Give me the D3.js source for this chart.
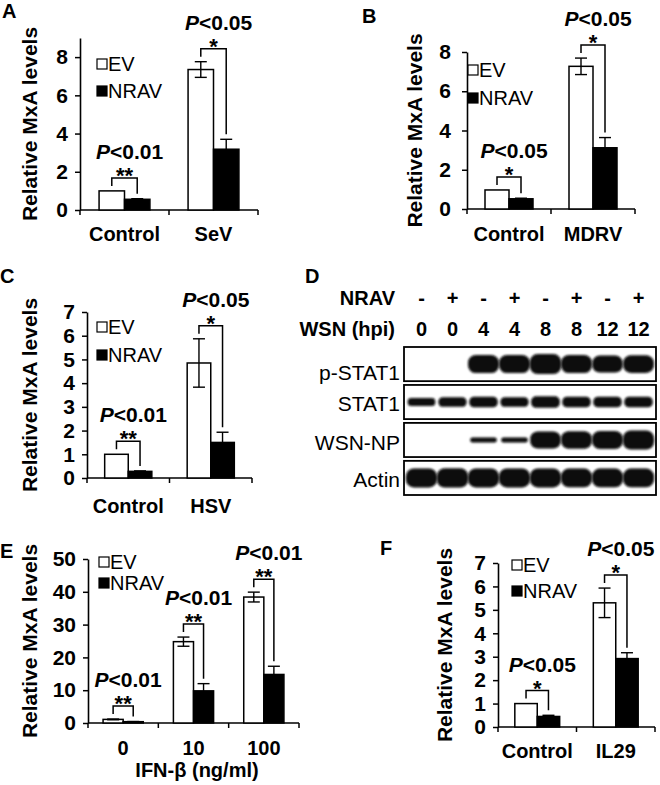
<!DOCTYPE html>
<html><head><meta charset="utf-8">
<script src="https://cdn.jsdelivr.net/npm/d3@7"></script>
<style>
body{margin:0;background:#fff}
svg{display:block}
text{font-family:"Liberation Sans",Arial,Helvetica,sans-serif;fill:#000}
</style>
</head><body>
<svg id="fig" width="660" height="785"></svg>
<script>
// ---------------- DATA ----------------
const seriesNames = ["EV", "NRAV"];

// Panel A
const categoriesA = ["Control", "SeV"];
const evA = [1.0, 7.35];
const evErrA = [0.0, 0.41];
const nravA = [0.56, 3.18];
const nravErrA = [0.03, 0.52];
const pA = ["0.01", "0.05"];
const starsA = ["**", "*"];
const ticksA = [0, 2, 4, 6, 8];

// Panel B
const categoriesB = ["Control", "MDRV"];
const evB = [0.97, 7.27];
const evErrB = [0.0, 0.42];
const nravB = [0.52, 3.12];
const nravErrB = [0.03, 0.52];
const pB = ["0.05", "0.05"];
const starsB = ["*", "*"];
const ticksB = [0, 2, 4, 6, 8];

// Panel C
const categoriesC = ["Control", "HSV"];
const evC = [1.0, 4.85];
const evErrC = [0.0, 1.02];
const nravC = [0.28, 1.5];
const nravErrC = [0.02, 0.43];
const pC = ["0.01", "0.05"];
const starsC = ["**", "*"];
const ticksC = [0, 1, 2, 3, 4, 5, 6, 7];

// Panel D (western blot)
const laneNRAV = ["-", "+", "-", "+", "-", "+", "-", "+"];
const laneWSN = ["0", "0", "4", "4", "8", "8", "12", "12"];
const blotRows = ["p-STAT1", "STAT1", "WSN-NP", "Actin"];
const bandPSTAT1 = [0, 0, 0.9, 0.9, 1.0, 0.9, 0.85, 0.88];
const bandSTAT1 = [0.4, 0.48, 0.52, 0.48, 0.58, 0.52, 0.52, 0.52];
const bandWSNNP = [0, 0, 0.25, 0.25, 0.85, 0.88, 0.9, 0.95];
const bandActin = [0.95, 0.97, 0.95, 0.95, 0.95, 0.93, 0.93, 0.93];

// Panel E
const categoriesE = ["0", "10", "100"];
const evE = [1.1, 24.8, 38.4];
const evErrE = [0.1, 1.4, 1.5];
const nravE = [0.4, 9.8, 14.8];
const nravErrE = [0.05, 2.2, 2.5];
const pE = ["0.01", "0.01", "0.01"];
const starsE = ["**", "**", "**"];
const ticksE = [0, 10, 20, 30, 40, 50];

// Panel F
const categoriesF = ["Control", "IL29"];
const evF = [1.0, 5.3];
const evErrF = [0.0, 0.63];
const nravF = [0.45, 2.92];
const nravErrF = [0.05, 0.25];
const pF = ["0.05", "0.05"];
const starsF = ["*", "*"];
const ticksF = [0, 1, 2, 3, 4, 5, 6, 7];

// ---------------- DRAWING ----------------
const svg = d3.select("#fig");
const FS = 20;

function panelLetter(t, x, y) {
  svg.append("text").attr("x", x).attr("y", y)
    .attr("font-size", 20).attr("font-weight", "bold").text(t);
}

function barPanel(o) {
  const g = svg.append("g");
  const x = d3.scaleBand().domain(o.cats).range(o.xRange).padding(0);
  const xs = d3.scaleBand().domain(seriesNames).range([0, x.bandwidth()])
    .paddingInner(0).paddingOuter(0.75);
  const y = d3.scaleLinear().domain([0, o.yMax]).range(o.yRange);
  const y0 = y(0);

  // y axis
  const ya = g.append("g").attr("transform", `translate(${o.xRange[0]},0)`)
    .call(d3.axisLeft(y).tickValues(o.ticks).tickFormat(d3.format("d"))
      .tickSize(5).tickSizeOuter(0).tickPadding(o.tickPad || 7));
  ya.select(".domain").attr("stroke", "#000").attr("stroke-width", 1.6);
  ya.selectAll(".tick line").attr("stroke", "#000").attr("stroke-width", 1.5);
  ya.selectAll(".tick text").attr("font-size", 21).attr("font-weight", "bold")
    .attr("font-family", "Liberation Sans, Arial, sans-serif").attr("fill", "#000");

  // x axis
  g.append("line").attr("x1", o.xRange[0]).attr("x2", o.xRange[1])
    .attr("y1", y0).attr("y2", y0).attr("stroke", "#000").attr("stroke-width", 1.6);
  const bounds = [x.range()[0]].concat(o.cats.map(c => x(c) + x.bandwidth()));
  g.selectAll(".xt").data(bounds).enter().append("line")
    .attr("x1", d => d).attr("x2", d => d).attr("y1", y0).attr("y2", y0 + 5)
    .attr("stroke", "#000").attr("stroke-width", 1.5);
  g.selectAll(".xl").data(o.cats).enter().append("text")
    .attr("x", d => x(d) + x.bandwidth() / 2).attr("y", y0 + o.catDy)
    .attr("text-anchor", "middle").attr("font-size", FS).attr("font-weight", "bold")
    .text(d => d);

  // bars
  const rows = o.cats.map((c, i) => ({c, ev: o.ev[i], evErr: o.evErr[i], nrav: o.nrav[i], nravErr: o.nravErr[i], p: o.p[i], s: o.stars[i]}));
  rows.forEach(r => {
    [["EV", r.ev, "#fff"], ["NRAV", r.nrav, "#000"]].forEach(([s, v, fill]) => {
      g.append("rect").attr("x", x(r.c) + xs(s)).attr("y", y(v))
        .attr("width", xs.bandwidth()).attr("height", y0 - y(v))
        .attr("fill", fill).attr("stroke", "#000").attr("stroke-width", 1.5);
    });
    [["EV", r.ev, r.evErr], ["NRAV", r.nrav, r.nravErr]].forEach(([s, v, e]) => {
      if (e <= 0) return;
      const cx = x(r.c) + xs(s) + xs.bandwidth() / 2;
      const eb = g.append("g").attr("stroke", "#000").attr("stroke-width", 1.4);
      eb.append("line").attr("x1", cx).attr("x2", cx).attr("y1", y(v - e)).attr("y2", y(v + e));
      eb.append("line").attr("x1", cx - 6).attr("x2", cx + 6).attr("y1", y(v + e)).attr("y2", y(v + e));
      eb.append("line").attr("x1", cx - 6).attr("x2", cx + 6).attr("y1", y(v - e)).attr("y2", y(v - e));
    });
    // significance bracket
    const lx = x(r.c) + xs("EV") + xs.bandwidth() / 2;
    const rx = x(r.c) + xs("NRAV") + xs.bandwidth() / 2;
    const lb = y(r.ev + r.evErr) - 5;
    const rb = y(r.nrav + r.nravErr) - 5;
    const top = Math.min(lb, rb) - 8;
    g.append("path").attr("d", `M${lx},${lb}V${top}H${rx}V${rb}`)
      .attr("fill", "none").attr("stroke", "#000").attr("stroke-width", 1.5);
    g.append("text").attr("x", (lx + rx) / 2).attr("y", top + 5)
      .attr("text-anchor", "middle").attr("font-size", 22).attr("font-weight", "bold").text(r.s);
    const pt = g.append("text").attr("x", (lx + rx) / 2 + 5).attr("y", top - 19)
      .attr("text-anchor", "middle").attr("font-size", 21).attr("font-weight", "bold");
    pt.append("tspan").attr("font-style", "italic").text("P");
    pt.append("tspan").text("<" + r.p);
  });

  // legend
  seriesNames.forEach((s, i) => {
    const ly = o.legend[1] + i * o.legendGap;
    g.append("rect").attr("x", o.legend[0]).attr("y", ly).attr("width", 10).attr("height", 10)
      .attr("fill", i === 0 ? "#fff" : "#000").attr("stroke", "#000").attr("stroke-width", 1.2);
    g.append("text").attr("x", o.legend[0] + 11).attr("y", ly + 12)
      .attr("font-size", 20).text(s);
  });

  // y label
  g.append("text").attr("transform", `translate(${o.yLabelX},${(o.yRange[0] + o.yRange[1]) / 2}) rotate(-90)`)
    .attr("text-anchor", "middle").attr("font-size", 21).attr("font-weight", "bold")
    .text("Relative MxA levels");

  if (o.xTitle) {
    g.append("text").attr("x", o.xTitle[1]).attr("y", y0 + o.xTitle[2])
      .attr("text-anchor", "middle").attr("font-size", FS).attr("font-weight", "bold").text(o.xTitle[0]);
  }
}

// Panel A
panelLetter("A", 2, 18);
barPanel({cats: categoriesA, ev: evA, evErr: evErrA, nrav: nravA, nravErr: nravErrA, p: pA, stars: starsA,
  ticks: ticksA, yMax: 9, xRange: [80, 258], yRange: [210, 38], catDy: 31, legend: [97, 59], legendGap: 27, yLabelX: 37});

// Panel B
panelLetter("B", 362, 23);
barPanel({cats: categoriesB, ev: evB, evErr: evErrB, nrav: nravB, nravErr: nravErrB, p: pB, stars: starsB,
  ticks: ticksB, yMax: 8, xRange: [467, 635], yRange: [209, 52], catDy: 32, legend: [468, 65], legendGap: 28, yLabelX: 422, tickPad: 11});

// Panel C
panelLetter("C", 0, 283);
barPanel({cats: categoriesC, ev: evC, evErr: evErrC, nrav: nravC, nravErr: nravErrC, p: pC, stars: starsC,
  ticks: ticksC, yMax: 7, xRange: [87, 252], yRange: [478, 312], catDy: 35, legend: [97, 322], legendGap: 28, yLabelX: 37});

// Panel E
panelLetter("E", 0, 558);
barPanel({cats: categoriesE, ev: evE, evErr: evErrE, nrav: nravE, nravErr: nravErrE, p: pE, stars: starsE,
  ticks: ticksE, yMax: 50, xRange: [88, 299], yRange: [723, 559], catDy: 32, legend: [99, 557], legendGap: 21, yLabelX: 37,
  xTitle: ["IFN-β (ng/ml)", 197, 54]});

// Panel F
panelLetter("F", 380, 555);
barPanel({cats: categoriesF, ev: evF, evErr: evErrF, nrav: nravF, nravErr: nravErrF, p: pF, stars: starsF,
  ticks: ticksF, yMax: 7, xRange: [498, 655], yRange: [727, 563], catDy: 31, legend: [512, 560], legendGap: 26, yLabelX: 452});

// Panel D: western blot
panelLetter("D", 305, 283);
(function () {
  const g = svg.append("g");
  const lane = d3.scaleBand().domain(d3.range(laneNRAV.length)).range([406, 654]).padding(0);
  const row = d3.scaleBand().domain(blotRows).range([347, 495]).paddingInner(0.1);
  const thick = d3.scaleLinear().domain([0, 1]).range([0, 20]);
  const bands = [bandPSTAT1, bandSTAT1, bandWSNNP, bandActin];

  const defs = svg.append("defs");
  defs.append("filter").attr("id", "blur").attr("x", "-20%").attr("y", "-50%").attr("width", "140%").attr("height", "200%")
    .append("feGaussianBlur").attr("stdDeviation", 1.3);

  // header rows
  g.append("text").attr("x", 395).attr("y", 305).attr("text-anchor", "end")
    .attr("font-size", FS).attr("font-weight", "bold").text("NRAV");
  g.append("text").attr("x", 395).attr("y", 336).attr("text-anchor", "end")
    .attr("font-size", FS).attr("font-weight", "bold").text("WSN (hpi)");
  g.selectAll(".ln").data(laneNRAV).enter().append("text")
    .attr("x", (d, i) => lane(i) + lane.bandwidth() / 2).attr("y", 305)
    .attr("text-anchor", "middle").attr("font-size", FS).attr("font-weight", "bold").text(d => d);
  g.selectAll(".lw").data(laneWSN).enter().append("text")
    .attr("x", (d, i) => lane(i) + lane.bandwidth() / 2).attr("y", 336)
    .attr("text-anchor", "middle").attr("font-size", FS).attr("font-weight", "bold").text(d => d);

  const labelDy = [16, 9, 10, 9];
  blotRows.forEach((r, ri) => {
    const top = row(r), h = row.bandwidth();
    const cid = "clip" + ri;
    defs.append("clipPath").attr("id", cid).append("rect")
      .attr("x", lane.range()[0] - 2).attr("y", top).attr("width", lane.range()[1] - lane.range()[0] + 4).attr("height", h);
    const bg = g.append("g").attr("clip-path", `url(#${cid})`);
    const cy = top + h / 2;
    bands[ri].forEach((v, i) => {
      if (v <= 0) return;
      const w = lane.step() * (0.8 + 0.22 * v);
      const bh = thick(v);
      bg.append("rect").attr("x", lane(i) + (lane.bandwidth() - w) / 2).attr("y", cy - bh / 2)
        .attr("width", w).attr("height", bh).attr("rx", Math.min(bh / 2.2, 8)).attr("ry", bh / 2.4)
        .attr("fill", "#0a0a0a").attr("filter", "url(#blur)");
    });
    g.append("rect").attr("x", lane.range()[0] - 2).attr("y", top)
      .attr("width", lane.range()[1] - lane.range()[0] + 4).attr("height", h)
      .attr("fill", "none").attr("stroke", "#000").attr("stroke-width", 1.8);
    g.append("text").attr("x", 400).attr("y", cy + labelDy[ri]).attr("text-anchor", "end")
      .attr("font-size", 21).text(r);
  });
})();
</script>
</body></html>
